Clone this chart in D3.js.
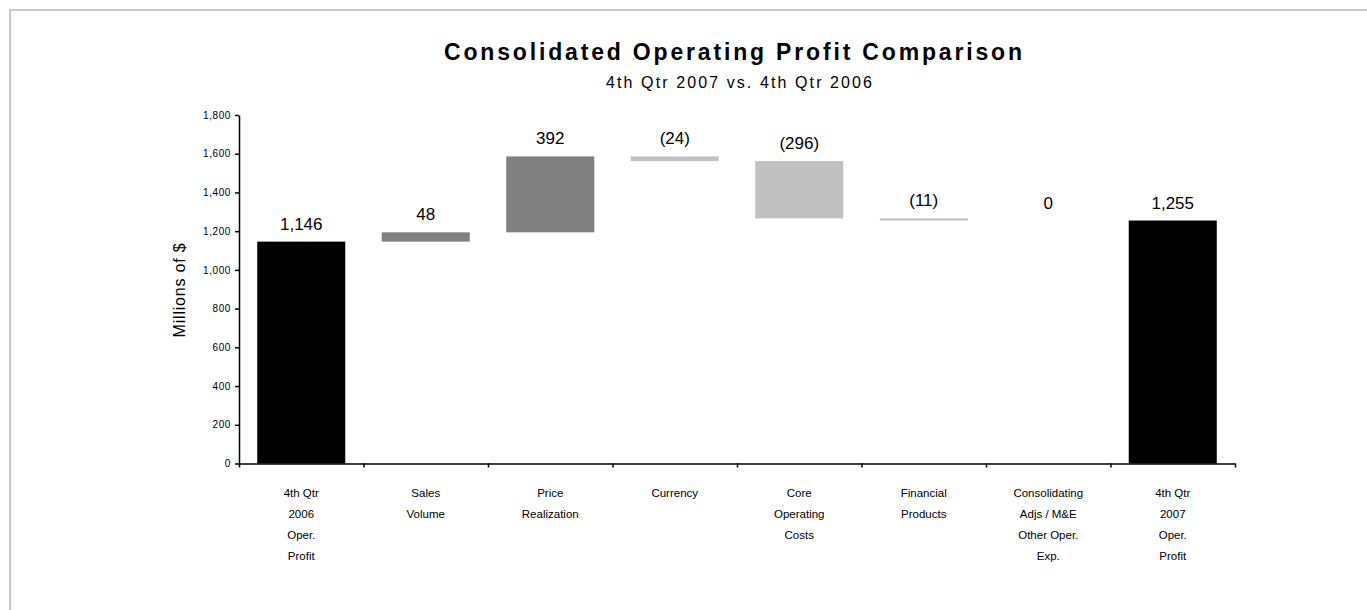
<!DOCTYPE html>
<html>
<head>
<meta charset="utf-8">
<script src="https://cdn.jsdelivr.net/npm/d3@7"></script>
<style>
  body { margin: 0; background: #fff; }
  text { font-family: Arial, "Liberation Sans", sans-serif; fill: #000; }
</style>
</head>
<body>
<div id="viz"></div>
<script>
// categories (multi-line tick labels)
var categories = [
  ['4th Qtr', '2006', 'Oper.', 'Profit'],
  ['Sales', 'Volume'],
  ['Price', 'Realization'],
  ['Currency'],
  ['Core', 'Operating', 'Costs'],
  ['Financial', 'Products'],
  ['Consolidating', 'Adjs / M&E', 'Other Oper.', 'Exp.'],
  ['4th Qtr', '2007', 'Oper.', 'Profit']
];
var values = [1146, 48, 392, -24, -296, -11, 0, 1255];
var kinds = ['total', 'delta', 'delta', 'delta', 'delta', 'delta', 'delta', 'total'];
var valueLabels = ['1,146', '48', '392', '(24)', '(296)', '(11)', '0', '1,255'];
var yTicks = [0, 200, 400, 600, 800, 1000, 1200, 1400, 1600, 1800];

var width = 1367, height = 610;

var svg = d3.select('#viz').append('svg')
  .attr('width', width)
  .attr('height', height);

// light frame at top/left
svg.append('path')
  .attr('d', 'M10,' + height + 'V10H' + width)
  .attr('fill', 'none')
  .attr('stroke', '#c8c8c8')
  .attr('stroke-width', 2);

// waterfall bases
var running = 0;
var bars = values.map(function(v, i){
  var lo, hi;
  if (kinds[i] == 'total') {
    lo = 0; hi = v; running = v;
  } else {
    lo = Math.min(running, running + v);
    hi = Math.max(running, running + v);
    running += v;
  }
  return {i: i, v: v, lo: lo, hi: hi, kind: kinds[i]};
});

var yScale = d3.scaleLinear()
  .domain([0, 1800])
  .range([463.5, 115]);

var xScale = d3.scaleBand()
  .domain(d3.range(categories.length))
  .range([239, 1235])
  .paddingInner(0.293)
  .paddingOuter(0.1465);

var xEdges = d3.scaleLinear()
  .domain([0, categories.length])
  .range([239, 1235]);

function barColor(d){
  if (d.kind == 'total') return '#000';
  return d.v >= 0 ? '#808080' : '#c0c0c0';
}

// bars
svg.selectAll('rect.bar').data(bars.filter(function(d){ return d.v !== 0; }))
  .enter().append('rect')
  .attr('class', 'bar')
  .attr('x', function(d){ return xScale(d.i); })
  .attr('width', xScale.bandwidth())
  .attr('y', function(d){ return yScale(d.hi); })
  .attr('height', function(d){ return Math.max(2, yScale(d.lo) - yScale(d.hi)); })
  .attr('fill', barColor);

// value labels
svg.selectAll('text.val').data(bars)
  .enter().append('text')
  .attr('class', 'val')
  .attr('x', function(d){ return xScale(d.i) + xScale.bandwidth() / 2; })
  .attr('y', function(d){ return yScale(d.hi) - 12; })
  .attr('text-anchor', 'middle')
  .style('font-size', '17px')
  .text(function(d, i){ return valueLabels[i]; });

// y axis
var yAxis = svg.append('g')
  .attr('transform', 'translate(239,0)')
  .call(d3.axisLeft(yScale).tickValues(yTicks).tickSize(4).tickSizeOuter(0).tickFormat(d3.format(',')));
yAxis.selectAll('text')
  .style('font-size', '10px')
  .style('letter-spacing', '0.6px')
  .attr('x', -8);
yAxis.selectAll('path, line').attr('stroke', '#000').attr('stroke-width', 1.5);

// x axis (ticks at category edges)
var xAxis = svg.append('g')
  .attr('transform', 'translate(0,463.5)')
  .call(d3.axisBottom(xEdges).tickValues(d3.range(categories.length + 1)).tickSize(4).tickSizeOuter(0).tickFormat(''));
xAxis.selectAll('path, line').attr('stroke', '#000').attr('stroke-width', 1.5);

// category labels
var catG = svg.selectAll('text.cat').data(categories)
  .enter().append('text')
  .attr('class', 'cat')
  .attr('text-anchor', 'middle')
  .style('font-size', '11.5px')
  .attr('transform', function(d, i){
    return 'translate(' + (xScale(i) + xScale.bandwidth() / 2) + ',497)';
  });
catG.selectAll('tspan').data(function(d){ return d; })
  .enter().append('tspan')
  .attr('x', 0)
  .attr('dy', function(d, j){ return j == 0 ? 0 : 21; })
  .text(function(d){ return d; });

// y title
svg.append('text')
  .attr('transform', 'translate(185,290) rotate(-90)')
  .attr('text-anchor', 'middle')
  .style('font-size', '16px')
  .style('letter-spacing', '0.8px')
  .text('Millions of $');

// titles
svg.append('text')
  .attr('x', 733)
  .attr('y', 60)
  .attr('text-anchor', 'middle')
  .attr('textLength', 578)
  .attr('lengthAdjust', 'spacing')
  .style('font-size', '23px')
  .style('font-weight', 'bold')
  .text('Consolidated Operating Profit Comparison');

svg.append('text')
  .attr('x', 739)
  .attr('y', 88)
  .attr('text-anchor', 'middle')
  .attr('textLength', 266)
  .attr('lengthAdjust', 'spacing')
  .style('font-size', '16px')
  .text('4th Qtr 2007 vs. 4th Qtr 2006');
</script>
</body>
</html>
